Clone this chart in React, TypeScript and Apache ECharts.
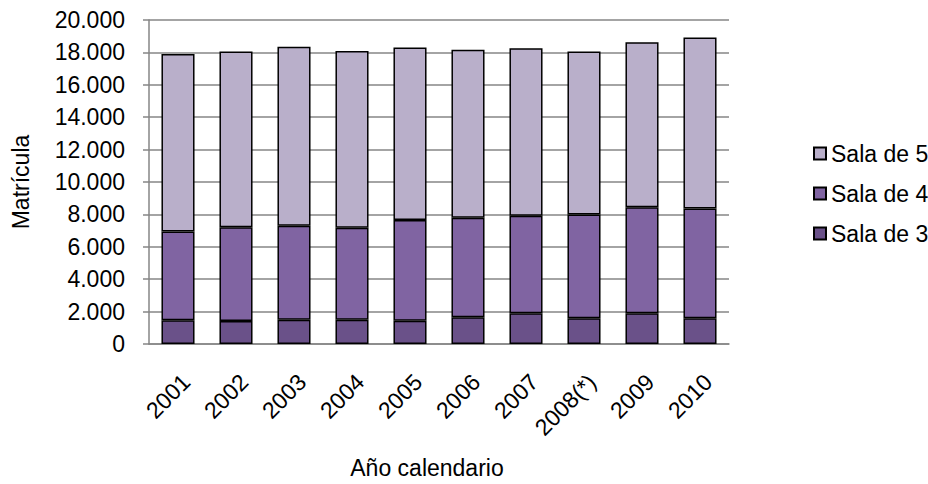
import React, { useEffect, useRef } from "react";
import * as echarts from "echarts";

const categories = ["2001", "2002", "2003", "2004", "2005", "2006", "2007", "2008(*)", "2009", "2010"];
const sala3 = [1470, 1420, 1490, 1500, 1430, 1650, 1900, 1590, 1900, 1590];
const sala4 = [5480, 5780, 5810, 5670, 6230, 6140, 6010, 6400, 6540, 6770];
const sala5 = [10950, 10860, 11050, 10910, 10650, 10380, 10340, 10070, 10190, 10560];
const seriesNames = ["Sala de 3", "Sala de 4", "Sala de 5"];
const legendOrder = ["Sala de 5", "Sala de 4", "Sala de 3"];

const FONT = "'Liberation Sans', Arial, sans-serif";
const colors = ["#6A5189", "#8064A2", "#B9AFCA"];

function fmt(v: number): string {
  return String(v).replace(/\B(?=(\d{3})+(?!\d))/g, ".");
}

export default function App() {
  const ref = useRef<HTMLDivElement>(null);
  useEffect(() => {
    if (!ref.current) return;
    document.body.style.margin = "0";
    const chart = echarts.init(ref.current, null, { renderer: "svg" });
    const data = [sala3, sala4, sala5];
    chart.setOption({
      animation: false,
      textStyle: { fontFamily: FONT },
      grid: { left: 149, right: 199, top: 20, bottom: 137 },
      legend: {
        orient: "vertical",
        left: 808,
        top: 137,
        data: legendOrder,
        itemWidth: 12,
        itemHeight: 12,
        itemGap: 17,
        icon: "rect",
        textStyle: { fontSize: 23, color: "#000", fontFamily: FONT },
      },
      xAxis: {
        type: "category",
        data: categories,
        name: "Año calendario",
        nameLocation: "middle",
        nameGap: 112,
        nameTextStyle: { fontSize: 23, color: "#000", fontFamily: FONT, padding: [0, 24, 0, 0] },
        axisLine: { lineStyle: { color: "#868686", width: 1.5 } },
        axisTick: { show: false },
        axisLabel: {
          rotate: 45,
          fontSize: 23,
          color: "#000",
          fontFamily: FONT,
          margin: 26,
          interval: 0,
          align: "right",
          verticalAlign: "top",
        },
      },
      yAxis: {
        type: "value",
        min: 0,
        max: 20000,
        interval: 2000,
        name: "Matrícula",
        nameLocation: "middle",
        nameGap: 117,
        nameTextStyle: { fontSize: 23, color: "#000", fontFamily: FONT },
        axisLine: { show: true, lineStyle: { color: "#868686", width: 1.5 } },
        axisTick: { show: true, length: 6, lineStyle: { color: "#868686", width: 1.5 } },
        splitLine: { lineStyle: { color: "#868686", width: 1.5 } },
        axisLabel: { fontSize: 23, color: "#000", fontFamily: FONT, margin: 24, formatter: (v: number) => fmt(v) },
      },
      series: seriesNames.map((name, i) => ({
        name,
        type: "bar",
        stack: "total",
        data: data[i],
        barCategoryGap: "43%",
        itemStyle: { color: colors[i], borderColor: "#000", borderWidth: 1.5 },
      })),
    });
    return () => chart.dispose();
  }, []);
  return (
    <div style={{ position: "absolute", left: 0, top: 0 }}>
      <div ref={ref} style={{ width: 928, height: 484 }} />
    </div>
  );
}
